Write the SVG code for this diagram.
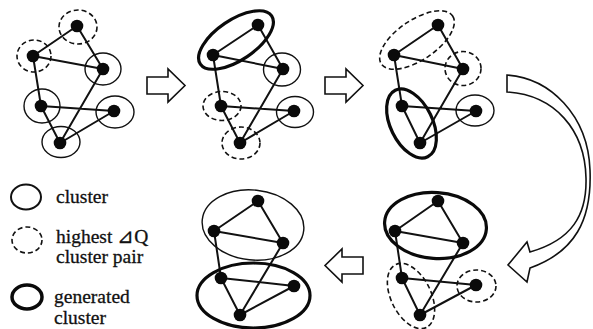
<svg xmlns="http://www.w3.org/2000/svg" width="593" height="329" viewBox="0 0 593 329">
<style>
.e{stroke:#111;stroke-width:2;fill:none}
.n{fill:#0a0a0a}
.c{fill:none;stroke:#111;stroke-width:1.4}
.d{fill:none;stroke:#111;stroke-width:1.6;stroke-dasharray:5 3}
.g{fill:none;stroke:#0a0a0a;stroke-width:3.2}
.ar{fill:#fff;stroke:#111;stroke-width:1.6;stroke-linejoin:miter}
.t{font-family:"Liberation Serif","Times New Roman",serif;font-size:19.5px;fill:#111;stroke:#111;stroke-width:0.3}
</style>
<rect width="593" height="329" fill="#fff"/>

<!-- Graph 1 -->
<g id="graph1">
  <g id="g1-connectors">
    <path class="e" d="M77,26L33,56M77,26L103,69M33,56L103,69M33,56L41,106M103,69L60,143M41,106L114,111M41,106L60,143M60,143L114,111"/>
  </g>
  <g id="g1-A"><ellipse class="d" cx="78" cy="27" rx="19" ry="17"/><circle class="n" cx="77" cy="26" r="6.3"/></g>
  <g id="g1-B"><ellipse class="d" cx="34" cy="56" rx="17" ry="16"/><circle class="n" cx="33" cy="56" r="6.3"/></g>
  <g id="g1-C"><ellipse class="c" cx="103" cy="69" rx="18" ry="16"/><circle class="n" cx="103" cy="69" r="6.3"/></g>
  <g id="g1-D"><ellipse class="c" cx="42" cy="106" rx="18" ry="17"/><circle class="n" cx="41" cy="106" r="6.3"/></g>
  <g id="g1-E"><ellipse class="c" cx="115" cy="112" rx="19" ry="16"/><circle class="n" cx="114" cy="111" r="6.3"/></g>
  <g id="g1-F"><ellipse class="c" cx="61" cy="142" rx="19" ry="15.5"/><circle class="n" cx="60" cy="143" r="6.3"/></g>
</g>

<!-- Graph 2 -->
<g id="graph2">
  <g id="g2-connectors">
    <path class="e" d="M258,25L213,55M258,25L283,69M213,55L283,69M213,55L221,106M283,69L240,143M221,106L294,111M221,106L240,143M240,143L294,111"/>
  </g>
  <g id="g2-AB"><ellipse class="g" cx="236" cy="40" rx="43" ry="20" transform="rotate(-34 236 40)"/><circle class="n" cx="258" cy="25" r="6.3"/><circle class="n" cx="213" cy="55" r="6.3"/></g>
  <g id="g2-C"><ellipse class="c" cx="282" cy="69.5" rx="18.5" ry="16.5"/><circle class="n" cx="283" cy="69" r="6.3"/></g>
  <g id="g2-D"><ellipse class="d" cx="222" cy="106" rx="19" ry="14.5"/><circle class="n" cx="221" cy="106" r="6.3"/></g>
  <g id="g2-E"><ellipse class="c" cx="295" cy="112" rx="18.5" ry="15.5"/><circle class="n" cx="294" cy="111" r="6.3"/></g>
  <g id="g2-F"><ellipse class="d" cx="241" cy="143" rx="19" ry="16"/><circle class="n" cx="240" cy="143" r="6.3"/></g>
</g>

<!-- Graph 3 -->
<g id="graph3">
  <g id="g3-connectors">
    <path class="e" d="M438,25L394,55M438,25L463,69M394,55L463,69M394,55L402,106M463,69L420,143M402,106L476,111M402,106L420,143M420,143L476,111"/>
  </g>
  <g id="g3-AB"><ellipse class="d" cx="417" cy="40" rx="43" ry="20" transform="rotate(-34 417 40)"/><circle class="n" cx="438" cy="25" r="6.3"/><circle class="n" cx="394" cy="55" r="6.3"/></g>
  <g id="g3-C"><ellipse class="d" cx="463" cy="68.5" rx="18" ry="17"/><circle class="n" cx="463" cy="69" r="6.3"/></g>
  <g id="g3-DF"><ellipse class="g" cx="411.5" cy="123.5" rx="37" ry="21" transform="rotate(64 411.5 123.5)"/><circle class="n" cx="402" cy="106" r="6.3"/><circle class="n" cx="420" cy="143" r="6.3"/></g>
  <g id="g3-E"><ellipse class="c" cx="475" cy="110.5" rx="19" ry="15.5"/><circle class="n" cx="476" cy="111" r="6.3"/></g>
</g>

<!-- Graph 4 (bottom middle) -->
<g id="graph4">
  <g id="g4-connectors">
    <path class="e" d="M258,201L214,231M258,201L283,243M214,231L283,243M214,231L221,278M283,243L240,315M221,278L294,286M221,278L240,315M240,315L294,286"/>
  </g>
  <g id="g4-ABC"><ellipse class="c" cx="253" cy="225" rx="51" ry="35" transform="rotate(6 253 225)"/><circle class="n" cx="258" cy="201" r="6.3"/><circle class="n" cx="214" cy="231" r="6.3"/><circle class="n" cx="283" cy="243" r="6.3"/></g>
  <g id="g4-DEF"><ellipse class="g" cx="253.5" cy="295.5" rx="56.5" ry="32.5"/><circle class="n" cx="221" cy="278" r="6.3"/><circle class="n" cx="294" cy="286" r="6.3"/><circle class="n" cx="240" cy="315" r="6.3"/></g>
</g>

<!-- Graph 5 (bottom right) -->
<g id="graph5">
  <g id="g5-connectors">
    <path class="e" d="M438,201L395,231M438,201L463,243M395,231L463,243M395,231L402,278M463,243L420,315M402,278L476,285M402,278L420,315M420,315L476,285"/>
  </g>
  <g id="g5-ABC"><ellipse class="g" cx="435.5" cy="225.5" rx="51" ry="33" transform="rotate(4 435.5 225.5)"/><circle class="n" cx="438" cy="201" r="6.3"/><circle class="n" cx="395" cy="231" r="6.3"/><circle class="n" cx="463" cy="243" r="6.3"/></g>
  <g id="g5-DF"><ellipse class="d" cx="411" cy="296" rx="35" ry="20" transform="rotate(64 411 296)"/><circle class="n" cx="402" cy="278" r="6.3"/><circle class="n" cx="420" cy="315" r="6.3"/></g>
  <g id="g5-E"><ellipse class="d" cx="476.5" cy="286" rx="19.5" ry="16"/><circle class="n" cx="476" cy="285" r="6.3"/></g>
</g>

<!-- Process arrows -->
<g id="arrows">
  <path id="arrow1" class="ar" d="M147,77L168,77L168,69L185,85.5L168,102L168,94L147,94Z"/>
  <path id="arrow2" class="ar" d="M325,77L346,77L346,69L363,85.5L346,102L346,94L325,94Z"/>
  <path id="arrow3" class="ar" d="M507,75C550,78 588,115 590,170C592,220 575,252 530,268L527,282L508,265L527,242L530,252C572,240 587,215 586,178C585,130 555,95 507,92Z"/>
  <path id="arrow4" class="ar" d="M363,257L342,257L342,249L325,265.5L342,282L342,274L363,274Z"/>
</g>

<!-- Legend -->
<g id="legend">
  <g id="legend-cluster"><ellipse class="c" cx="26" cy="197" rx="15" ry="12.5" style="stroke-width:2"/><text class="t" x="56" y="203">cluster</text></g>
  <g id="legend-pair"><ellipse class="d" cx="27" cy="240" rx="15" ry="13"/><text class="t" x="56" y="243">highest ⊿Q</text><text class="t" x="56" y="263">cluster pair</text></g>
  <g id="legend-generated"><ellipse class="g" cx="27" cy="297" rx="15" ry="12" style="stroke-width:3.5"/><text class="t" x="54" y="303">generated</text><text class="t" x="54" y="324">cluster</text></g>
</g>
</svg>
